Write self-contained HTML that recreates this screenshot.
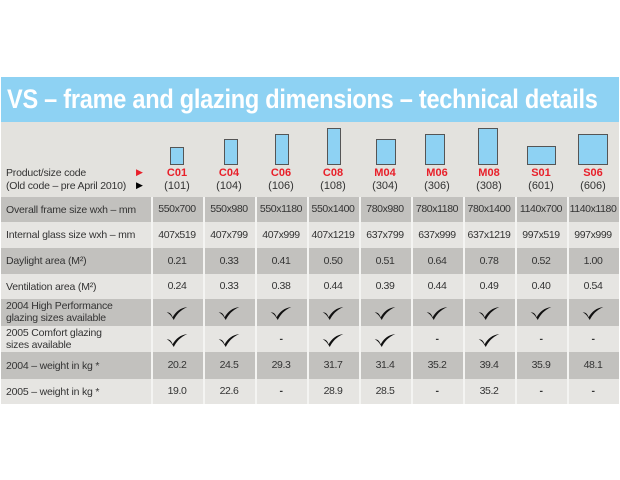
<!DOCTYPE html>
<html><head><meta charset="utf-8"><style>
*{margin:0;padding:0;box-sizing:border-box}
body{width:620px;height:480px;background:#fff;position:relative;overflow:hidden;font-family:"Liberation Sans",sans-serif;color:#333}
.a{position:absolute}
#title{left:1px;top:77px;width:618px;height:45px;background:#8ed2f3}
#tt{position:absolute;left:6px;top:0;color:#fff;font-weight:bold;font-size:27px;line-height:45px;white-space:nowrap;transform:scaleX(0.872);transform-origin:0 0;letter-spacing:-0.3px}
#hdr{left:1px;top:122px;width:618px;height:75px;background:#e3e2de}
.win{position:absolute;background:#8ed2f3;border:1.5px solid #555}
.code{position:absolute;width:52px;text-align:center;font-size:11px}
.red{color:#e8202a;font-weight:bold}
.row{position:absolute;left:1px;width:618px}
.d{background:#c2c1be}.l{background:#e6e5e2}
.lab{position:absolute;left:6px;font-size:10.5px;line-height:12px;letter-spacing:-0.2px}
.cell{position:absolute;width:52px;text-align:center;font-size:10.5px;letter-spacing:-0.4px}
.sep{position:absolute;top:197px;height:207px;width:2px;background:#f4f4f2}
</style></head><body>
<div id="title" class="a"><div id="tt">VS – frame and glazing dimensions – technical details</div></div>
<div id="hdr" class="a"></div>
<div class="a" style="left:6px;top:167px;font-size:10.5px;line-height:13px;letter-spacing:-0.2px">Product/size code<br>(Old code – pre April 2010)</div>
<div class="a" style="left:136px;top:167px;font-size:9px;color:#e8202a">▶</div>
<div class="a" style="left:136px;top:180px;font-size:9px;color:#000">▶</div>
<div class="win" style="left:170px;top:147px;width:14px;height:18px"></div>
<div class="win" style="left:224px;top:139px;width:14px;height:26px"></div>
<div class="win" style="left:275px;top:134px;width:14px;height:31px"></div>
<div class="win" style="left:327px;top:128px;width:14px;height:37px"></div>
<div class="win" style="left:376px;top:139px;width:20px;height:26px"></div>
<div class="win" style="left:425px;top:134px;width:20px;height:31px"></div>
<div class="win" style="left:478px;top:128px;width:20px;height:37px"></div>
<div class="win" style="left:527px;top:146px;width:29px;height:19px"></div>
<div class="win" style="left:578px;top:134px;width:30px;height:31px"></div>
<div id="rows"></div>
<script>
const cols=[151,203,255,307,359,411,463,515,567];
const codes=[["C01","101"],["C04","104"],["C06","106"],["C08","108"],["M04","304"],["M06","306"],["M08","308"],["S01","601"],["S06","606"]];
let h='';
const ck='<svg width="22" height="13" viewBox="0 0 20 12"><path d="M0.5 5 C3 4.5 5 6.5 6 9.5 C9 4 13 1 19.5 0 C13 3 9.5 7 7 12 C5 8.5 3 6 0.5 5Z" fill="#111"/></svg>';
const rows=[
["Overall frame size wxh – mm",["550x700","550x980","550x1180","550x1400","780x980","780x1180","780x1400","1140x700","1140x1180"],197,222,'d'],
["Internal glass size wxh – mm",["407x519","407x799","407x999","407x1219","637x799","637x999","637x1219","997x519","997x999"],222,248,'l'],
["Daylight area (M²)",["0.21","0.33","0.41","0.50","0.51","0.64","0.78","0.52","1.00"],248,274,'d'],
["Ventilation area (M²)",["0.24","0.33","0.38","0.44","0.39","0.44","0.49","0.40","0.54"],274,299,'l'],
["2004 High Performance<br>glazing sizes available",Array(9).fill('C'),299,326,'d'],
["2005 Comfort glazing<br>sizes available",['C','C','-','C','C','-','C','-','-'],326,352,'l'],
["2004 – weight in kg *",["20.2","24.5","29.3","31.7","31.4","35.2","39.4","35.9","48.1"],352,379,'d'],
["2005 – weight in kg *",["19.0","22.6","-","28.9","28.5","-","35.2","-","-"],379,404,'l']];
rows.forEach(r=>{const [lab,v,t,b,c]=r;const hh=b-t;
h+=`<div class="row ${c}" style="top:${t}px;height:${hh}px"></div>`;
const two=lab.includes('<br>');
h+=`<div class="lab" style="top:${two?t+1:t+(hh-12)/2}px">${lab}</div>`;
v.forEach((x,i)=>{if(x==='C')h+=`<div class="cell" style="left:${cols[i]}px;top:${t+(hh-13)/2+1}px">${ck}</div>`;
else h+=`<div class="cell" style="left:${cols[i]}px;top:${t+(hh-13)/2}px;${x==='-'?'font-weight:bold':''}">${x}</div>`;});});
codes.forEach((c,i)=>{h+=`<div class="code red" style="left:${cols[i]}px;top:167px">${c[0]}</div><div class="code" style="left:${cols[i]}px;top:180px">(${c[1]})</div>`});
cols.forEach(x=>{h+=`<div class="sep" style="left:${x}px"></div>`});
document.getElementById('rows').innerHTML=h;
</script>
</body></html>
